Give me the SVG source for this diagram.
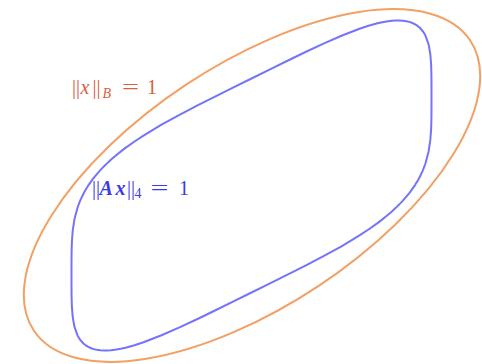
<svg xmlns="http://www.w3.org/2000/svg" width="482" height="364" viewBox="0 0 482 364">
  <style>
    .curve { fill: none; stroke-width: 2; stroke-linejoin: round; }
    .orange { stroke: #f2a064; }
    .blue { stroke: #7474fb; }
    .lbl { font-family: "Liberation Serif", "DejaVu Serif", serif; font-size: 20px; }
    .it { font-style: italic; }
    .lblB { fill: #d9603a; }
    .lblA { fill: #3a3ae6; }
  </style>
  <rect width="482" height="364" fill="#ffffff"/>
  <g id="norm-B">
    <ellipse class="curve orange" cx="252" cy="185.5" rx="262" ry="120.5" transform="rotate(-33.6 252 185.5)"/>
  </g>
  <g id="norm-A4">
    <path class="curve blue" vector-effect="non-scaling-stroke" transform="matrix(180,-89,0,-107,251.5,185.5)" d="M1,0 L1,0.1 L0.9996,0.2 L0.998,0.3 L0.9935,0.4 L0.984,0.5 L0.9659,0.6 L0.952,0.65 L0.9337,0.7 L0.9247,0.72 L0.9093,0.75 L0.8909,0.78 L0.8766,0.8 L0.8603,0.82 L0.8409,0.8409 L0.82,0.8603 L0.8,0.8766 L0.78,0.8909 L0.75,0.9093 L0.72,0.9247 L0.7,0.9337 L0.65,0.952 L0.6,0.9659 L0.5,0.984 L0.4,0.9935 L0.3,0.998 L0.2,0.9996 L0.1,1 L0,1 L-0.1,1 L-0.2,0.9996 L-0.3,0.998 L-0.4,0.9935 L-0.5,0.984 L-0.6,0.9659 L-0.65,0.952 L-0.7,0.9337 L-0.72,0.9247 L-0.75,0.9093 L-0.78,0.8909 L-0.8,0.8766 L-0.82,0.8603 L-0.8409,0.8409 L-0.8603,0.82 L-0.8766,0.8 L-0.8909,0.78 L-0.9093,0.75 L-0.9247,0.72 L-0.9337,0.7 L-0.952,0.65 L-0.9659,0.6 L-0.984,0.5 L-0.9935,0.4 L-0.998,0.3 L-0.9996,0.2 L-1,0.1 L-1,0 L-1,-0.1 L-0.9996,-0.2 L-0.998,-0.3 L-0.9935,-0.4 L-0.984,-0.5 L-0.9659,-0.6 L-0.952,-0.65 L-0.9337,-0.7 L-0.9247,-0.72 L-0.9093,-0.75 L-0.8909,-0.78 L-0.8766,-0.8 L-0.8603,-0.82 L-0.8409,-0.8409 L-0.82,-0.8603 L-0.8,-0.8766 L-0.78,-0.8909 L-0.75,-0.9093 L-0.72,-0.9247 L-0.7,-0.9337 L-0.65,-0.952 L-0.6,-0.9659 L-0.5,-0.984 L-0.4,-0.9935 L-0.3,-0.998 L-0.2,-0.9996 L-0.1,-1 L0,-1 L0.1,-1 L0.2,-0.9996 L0.3,-0.998 L0.4,-0.9935 L0.5,-0.984 L0.6,-0.9659 L0.65,-0.952 L0.7,-0.9337 L0.72,-0.9247 L0.75,-0.9093 L0.78,-0.8909 L0.8,-0.8766 L0.82,-0.8603 L0.8409,-0.8409 L0.8603,-0.82 L0.8766,-0.8 L0.8909,-0.78 L0.9093,-0.75 L0.9247,-0.72 L0.9337,-0.7 L0.952,-0.65 L0.9659,-0.6 L0.984,-0.5 L0.9935,-0.4 L0.998,-0.3 L0.9996,-0.2 L1,-0.1 Z"/>
  </g>
  <g id="label-B">
    <text class="lbl lblB" y="94"><tspan x="72">|</tspan><tspan x="76">|</tspan><tspan x="80.5" class="it">x</tspan><tspan x="92.5">|</tspan><tspan x="96.5">|</tspan><tspan x="102.5" dy="4" class="it" font-size="14">B</tspan></text>
    <text class="lbl lblB" x="122" y="94" textLength="17" lengthAdjust="spacingAndGlyphs">=</text>
    <text class="lbl lblB" x="147" y="94">1</text>
  </g>
  <g id="label-A4">
    <text class="lbl lblA" y="195"><tspan x="92">|</tspan><tspan x="96">|</tspan><tspan x="99.5" class="it" font-weight="bold">A</tspan><tspan x="115.5" class="it" font-weight="bold">x</tspan><tspan x="127">|</tspan><tspan x="131">|</tspan><tspan x="134.5" dy="3" font-size="14">4</tspan></text>
    <text class="lbl lblA" x="150.5" y="195" textLength="18" lengthAdjust="spacingAndGlyphs">=</text>
    <text class="lbl lblA" x="179" y="195">1</text>
  </g>
</svg>
